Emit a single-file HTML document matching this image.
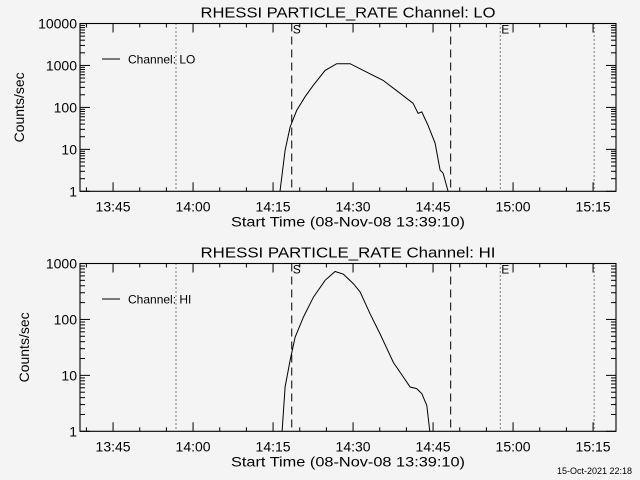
<!DOCTYPE html>
<html><head><meta charset="utf-8"><style>
html,body{margin:0;padding:0;background:#f4f4f4;}
svg{display:block;font-family:"Liberation Sans",sans-serif;}
</style></head><body>
<svg id="chart" width="640" height="480" viewBox="0 0 640 480" xmlns="http://www.w3.org/2000/svg">
<rect x="0" y="0" width="640" height="480" fill="#f4f4f4"/>
<text x="632" y="474" font-size="9" text-anchor="end" fill="#000">15-Oct-2021 22:18</text>
</svg>
<script>
// times are minutes after 13:00
const xTickLabels = ["13:45","14:00","14:15","14:30","14:45","15:00","15:15"];
const xTickMinutes = [45,60,75,90,105,120,135];
const loTimes = [76.3,77.25,78.19,79.44,81.0,82.5,84.75,86.94,89.44,92.57,95.63,98.19,101.25,102.19,102.88,104.06,105.38,106.31,106.88,107.81];
const loValues = [1,9.5,34,85,180,330,760,1100,1100,690,440,250,125,72,78,37,14,3.2,2.7,1];
const hiTimes = [76.69,77.25,78.19,79.13,80.68,82.56,84.75,86.63,88.18,90.06,91.31,93.19,95.06,97.56,99.43,100.69,101.94,102.88,103.82,104.44];
const hiValues = [1,6.2,18.5,48,110,250,500,720,645,435,310,126,55,17,9.3,6.2,5.8,4.7,2.9,0.9];
const loTickLabels = ["1","10","100","1000","10000"];
const hiTickLabels = ["1","10","100","1000"];
const markerTimes = [56.8,78.5,108.3,117.6,135.2];
const markerStyles = ["dot","dash","dash","dot","dot"];

const svg = document.getElementById('chart');
const NS = 'http://www.w3.org/2000/svg';
const X0 = 80, X1 = 616, T0 = 38.8, T1 = 139.3;
function xs(t){ return X0 + (t - T0) / (T1 - T0) * (X1 - X0); }
function mk(tag, attrs, parent){ const e = document.createElementNS(NS, tag); for (const k in attrs) e.setAttribute(k, attrs[k]); (parent||svg).appendChild(e); return e; }

function panel(name, top, bottom, decades, times, values, tickLabels, title, legend){
  const g = mk('g', {});
  
  
  function ys(v){ return bottom - Math.log10(v) / decades * (bottom - top); }
  const tt = mk('text', {x: 348, y: top - 6, 'font-size': 15, 'text-anchor': 'middle', fill: '#000', textLength: 295, lengthAdjust: 'spacingAndGlyphs'}, g);
  tt.textContent = title;
  
  
  markerTimes.forEach((t, i) => {
    const l = mk('line', {x1: xs(t), x2: xs(t), y1: top, y2: bottom, stroke: '#000', 'stroke-width': 1, 'stroke-dasharray': markerStyles[i] === 'dot' ? '1,3' : '8,5'}, g);
    
    
  });
  const sl = mk('text', {x: xs(markerTimes[1]) + 1, y: top + 10, 'font-size': 12, fill: '#000'}, g);
  sl.textContent = 'S';
  
  
  const el = mk('text', {x: xs(markerTimes[3]) + 1, y: top + 10, 'font-size': 12, fill: '#000'}, g);
  el.textContent = 'E';
  
  
  const fr = mk('rect', {x: X0, y: top, width: X1 - X0, height: bottom - top, fill: 'none', stroke: '#000', 'stroke-width': 1.1}, g);
  
  
  for (let m = 40; m <= 139; m += 5) {
    const x = xs(m);
    const len = (m % 15 === 0) ? 9 : 4;
    mk('line', {x1: x, x2: x, y1: bottom, y2: bottom - len, stroke: '#000'}, g);
    mk('line', {x1: x, x2: x, y1: top, y2: top + len, stroke: '#000'}, g);
  }
  xTickMinutes.forEach((m, i) => {
    const t = mk('text', {x: xs(m), y: bottom + 20, 'font-size': 14, 'text-anchor': 'middle', fill: '#000'}, g);
    t.textContent = xTickLabels[i];
    
    
  });
  const xt = mk('text', {x: 348, y: bottom + 35, 'font-size': 14, 'text-anchor': 'middle', fill: '#000', textLength: 234, lengthAdjust: 'spacingAndGlyphs'}, g);
  xt.textContent = 'Start Time (08-Nov-08 13:39:10)';
  
  
  for (let d = 0; d <= decades; d++) {
    for (let k = 1; k <= 9; k++) {
      if (d === decades && k > 1) break;
      const v = Math.pow(10, d) * k;
      const y = ys(v);
      const len = k === 1 ? 10 : 5;
      mk('line', {x1: X0, x2: X0 + len, y1: y, y2: y, stroke: '#000'}, g);
      mk('line', {x1: X1, x2: X1 - len, y1: y, y2: y, stroke: '#000'}, g);
    }
  }
  tickLabels.forEach((lab, i) => {
    const t = mk('text', {x: 77, y: ys(Math.pow(10, i)) + 5, 'font-size': 14, 'text-anchor': 'end', fill: '#000'}, g);
    t.textContent = lab;
    
    
  });
  const yt = mk('text', {x: 0, y: 0, 'font-size': 14, 'text-anchor': 'middle', fill: '#000', transform: 'translate(' + (name === 'lo' ? 24 : 29) + ',' + ((top + bottom) / 2) + ') rotate(-90)'}, g);
  yt.textContent = 'Counts/sec';
  
  
  mk('line', {x1: 102, x2: 120, y1: top + 35.5, y2: top + 35.5, stroke: '#000'}, g);
  const lt = mk('text', {x: 128, y: top + 40, 'font-size': 12, fill: '#000'}, g);
  lt.textContent = legend;
  
  
  const cid = 'clip-' + name;
  const cp = mk('clipPath', {id: cid}, g);
  mk('rect', {x: X0, y: top, width: X1 - X0, height: bottom - top}, cp);
  const pts = times.map((t, i) => xs(t).toFixed(1) + ',' + ys(values[i]).toFixed(1)).join(' ');
  const pl = mk('polyline', {points: pts, fill: 'none', stroke: '#000', 'stroke-width': 1, 'clip-path': 'url(#' + cid + ')'}, g);
  
  
}
panel('lo', 23.5, 191.3, 4, loTimes, loValues, loTickLabels, 'RHESSI PARTICLE_RATE Channel: LO', 'Channel: LO');
panel('hi', 263.5, 431.3, 3, hiTimes, hiValues, hiTickLabels, 'RHESSI PARTICLE_RATE Channel: HI', 'Channel: HI');
</script>
</body></html>
